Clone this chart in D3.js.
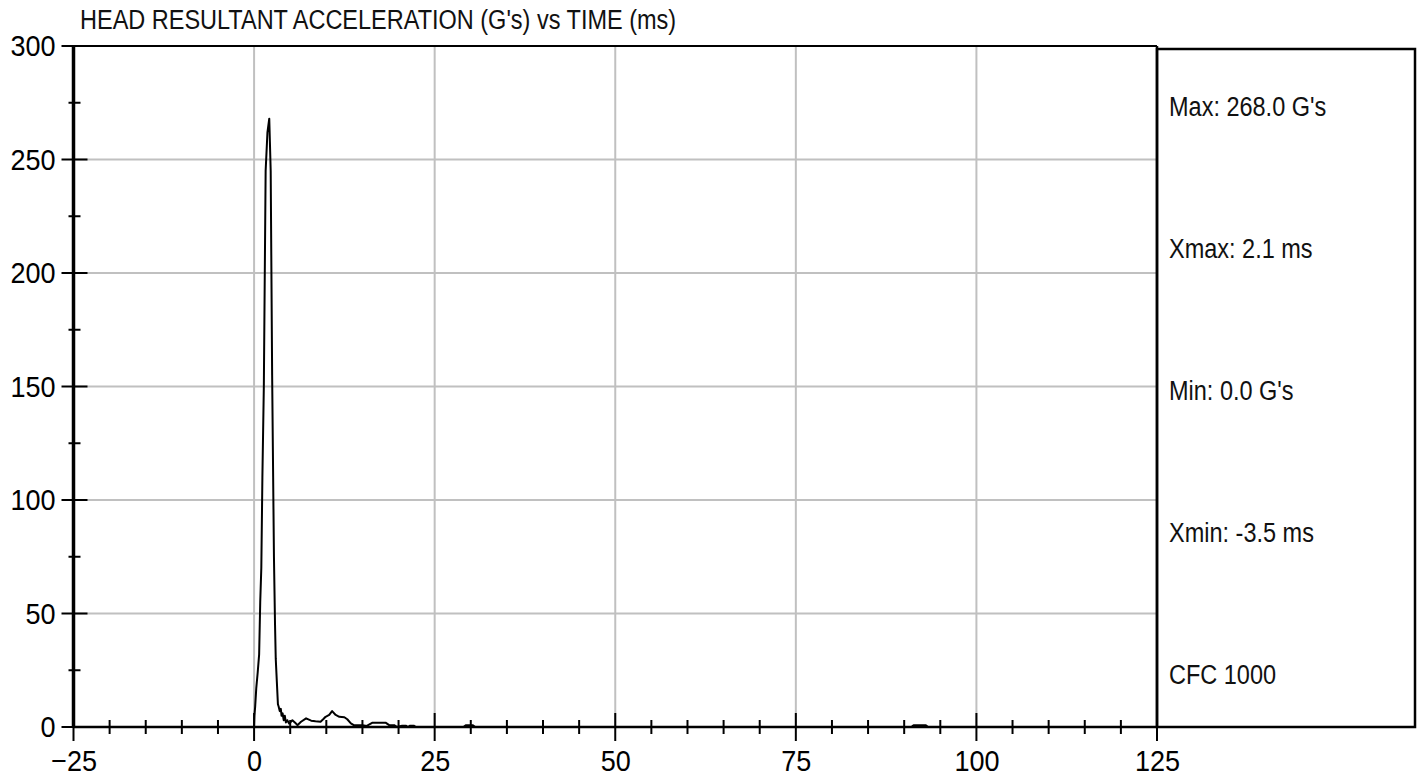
<!DOCTYPE html>
<html>
<head>
<meta charset="utf-8">
<script src="https://cdn.jsdelivr.net/npm/d3@7"></script>
<style>
  body { margin: 0; background: #fff; }
  svg { display: block; }
  .tick-label { font-family: "Liberation Sans", Arial, sans-serif; font-size: 30px; fill: #000; }
  .narrow { font-family: "Liberation Sans", Arial, sans-serif; fill: #111; }
</style>
</head>
<body>
<svg width="1420" height="783"></svg>
<script>
// data: time (ms) and head resultant acceleration (G's)
var timeMs = [-3.5, 0, 0.05, 0.15, 0.3, 0.5, 0.7, 0.85, 1.0, 1.15, 1.35, 1.6, 1.85, 2.1, 2.3, 2.5, 2.75, 2.9, 3.0, 3.15, 3.3,
  3.4, 3.55, 3.7, 3.8, 3.95, 4.1, 4.25, 4.4, 4.6, 4.85, 5.3, 5.8, 6.0, 6.5, 7.2, 7.9, 8.5, 9.2, 9.6, 9.9, 10.4, 10.8,
  11.3, 11.8, 12.5, 12.9, 13.4, 13.8, 15.0, 15.6, 16.4, 18.2, 18.7, 19.4, 19.8, 20.5, 21.0, 21.3, 21.6, 22.1, 22.4,
  29.0, 29.3, 30.3, 30.6, 91.0, 91.3, 93.0, 93.3, 125];
var accelG = [0, 0, 5, 9, 17, 24, 32, 55, 70, 110, 150, 245, 262, 268, 245, 155, 75, 45, 30, 20, 10,
  9, 7, 8, 5, 6, 3, 5, 2, 3, 1.5, 3, 1.5, 0.8, 2.3, 3.8, 2.8, 2.5, 2.3, 3.5, 4.5, 5.3, 7,
  5.3, 4.5, 4.3, 3.4, 1.6, 0.8, 0.8, 0.5, 1.9, 1.9, 0.8, 0.8, 0, 0.6, 0.6, 0, 0.6, 0.6, 0,
  0, 0.8, 0.8, 0, 0, 0.8, 0.8, 0, 0];

var xMajor = [-25, 0, 25, 50, 75, 100, 125];
var xMinor = d3.range(-20, 125, 5).filter(function(d) { return d % 25 !== 0; });
var yMajor = [0, 50, 100, 150, 200, 250, 300];
var yMinor = [25, 75, 125, 175, 225, 275];

var title = "HEAD RESULTANT ACCELERATION (G's) vs TIME (ms)";
var statLabels = ["Max: 268.0 G's", "Xmax: 2.1 ms", "Min: 0.0 G's", "Xmin: -3.5 ms", "CFC 1000"];

var svg = d3.select("svg"),
    plot = {left: 73.5, right: 1157, top: 46, bottom: 727},
    panelRight = 1415;

var x = d3.scaleLinear().domain([-25, 125]).range([plot.left, plot.right]),
    y = d3.scaleLinear().domain([0, 300]).range([plot.bottom, plot.top]);

// squeeze text sideways, the original uses a condensed face
function squeeze(sel, k) {
  sel.each(function() {
    var len = this.getComputedTextLength();
    d3.select(this).attr("textLength", len * k).attr("lengthAdjust", "spacingAndGlyphs");
  });
}

// grid
svg.append("g").selectAll("line").data(xMajor.filter(function(d) { return d > -25 && d < 125; }))
  .enter().append("line")
    .attr("x1", x).attr("x2", x).attr("y1", plot.top).attr("y2", plot.bottom)
    .attr("stroke", "#c0c0c0").attr("stroke-width", 2);
svg.append("g").selectAll("line").data(yMajor.filter(function(d) { return d > 0 && d < 300; }))
  .enter().append("line")
    .attr("x1", plot.left).attr("x2", plot.right).attr("y1", y).attr("y2", y)
    .attr("stroke", "#c0c0c0").attr("stroke-width", 2);

// frame: top line, right stats panel
svg.append("line").attr("x1", plot.left).attr("x2", plot.right).attr("y1", plot.top).attr("y2", plot.top)
  .attr("stroke", "#000").attr("stroke-width", 2);
svg.append("rect").attr("x", plot.right).attr("y", plot.top + 3)
  .attr("width", panelRight - plot.right).attr("height", plot.bottom - plot.top - 3)
  .attr("fill", "none").attr("stroke", "#000").attr("stroke-width", 2.5);
svg.append("line").attr("x1", plot.right).attr("x2", plot.right).attr("y1", plot.top).attr("y2", plot.bottom)
  .attr("stroke", "#000").attr("stroke-width", 2.5);

// axes lines
svg.append("line").attr("x1", plot.left).attr("x2", plot.right).attr("y1", plot.bottom).attr("y2", plot.bottom)
  .attr("stroke", "#000").attr("stroke-width", 2.5);
svg.append("line").attr("x1", plot.left).attr("x2", plot.left).attr("y1", plot.top).attr("y2", plot.bottom)
  .attr("stroke", "#000").attr("stroke-width", 3.5);

// tick marks, they cross the axis
var ticks = svg.append("g").attr("stroke", "#000").attr("stroke-width", 2);
ticks.selectAll(".xmaj").data(xMajor).enter().append("line")
  .attr("x1", x).attr("x2", x).attr("y1", plot.bottom - 14).attr("y2", plot.bottom + 14);
ticks.selectAll(".xmin").data(xMinor).enter().append("line")
  .attr("x1", x).attr("x2", x).attr("y1", plot.bottom - 7).attr("y2", plot.bottom + 7);
ticks.selectAll(".ymaj").data(yMajor).enter().append("line")
  .attr("x1", plot.left - 12).attr("x2", plot.left + 14).attr("y1", y).attr("y2", y);
ticks.selectAll(".ymin").data(yMinor).enter().append("line")
  .attr("x1", plot.left - 5).attr("x2", plot.left + 7).attr("y1", y).attr("y2", y);

// tick labels via d3 axes
var xAxis = svg.append("g").attr("transform", "translate(0," + plot.bottom + ")")
  .call(d3.axisBottom(x).tickValues(xMajor).tickSize(0).tickPadding(23));
var yAxis = svg.append("g").attr("transform", "translate(" + plot.left + ",0)")
  .call(d3.axisLeft(y).tickValues(yMajor).tickSize(0).tickPadding(18));
[xAxis, yAxis].forEach(function(a) {
  a.select(".domain").remove();
  a.attr("font-family", null).attr("font-size", null);
  a.selectAll("text").attr("class", "tick-label").call(squeeze, 0.9);
});

// the trace
var points = timeMs.map(function(t, i) { return [t, accelG[i]]; });
svg.append("path").datum(points)
  .attr("fill", "none").attr("stroke", "#000").attr("stroke-width", 2).attr("stroke-linejoin", "round")
  .attr("d", d3.line().x(function(d) { return x(d[0]); }).y(function(d) { return y(d[1]); }));

// title
svg.append("text").attr("class", "narrow").attr("x", 80).attr("y", 29)
  .attr("font-size", 27).text(title).call(squeeze, 0.87);

// stats panel text
svg.append("g").selectAll("text").data(statLabels).enter().append("text")
  .attr("class", "narrow").attr("font-size", 27)
  .attr("x", plot.right + 12)
  .attr("y", function(d, i) { return 116 + i * 142; })
  .text(function(d) { return d; })
  .call(squeeze, 0.87);
</script>
</body>
</html>
